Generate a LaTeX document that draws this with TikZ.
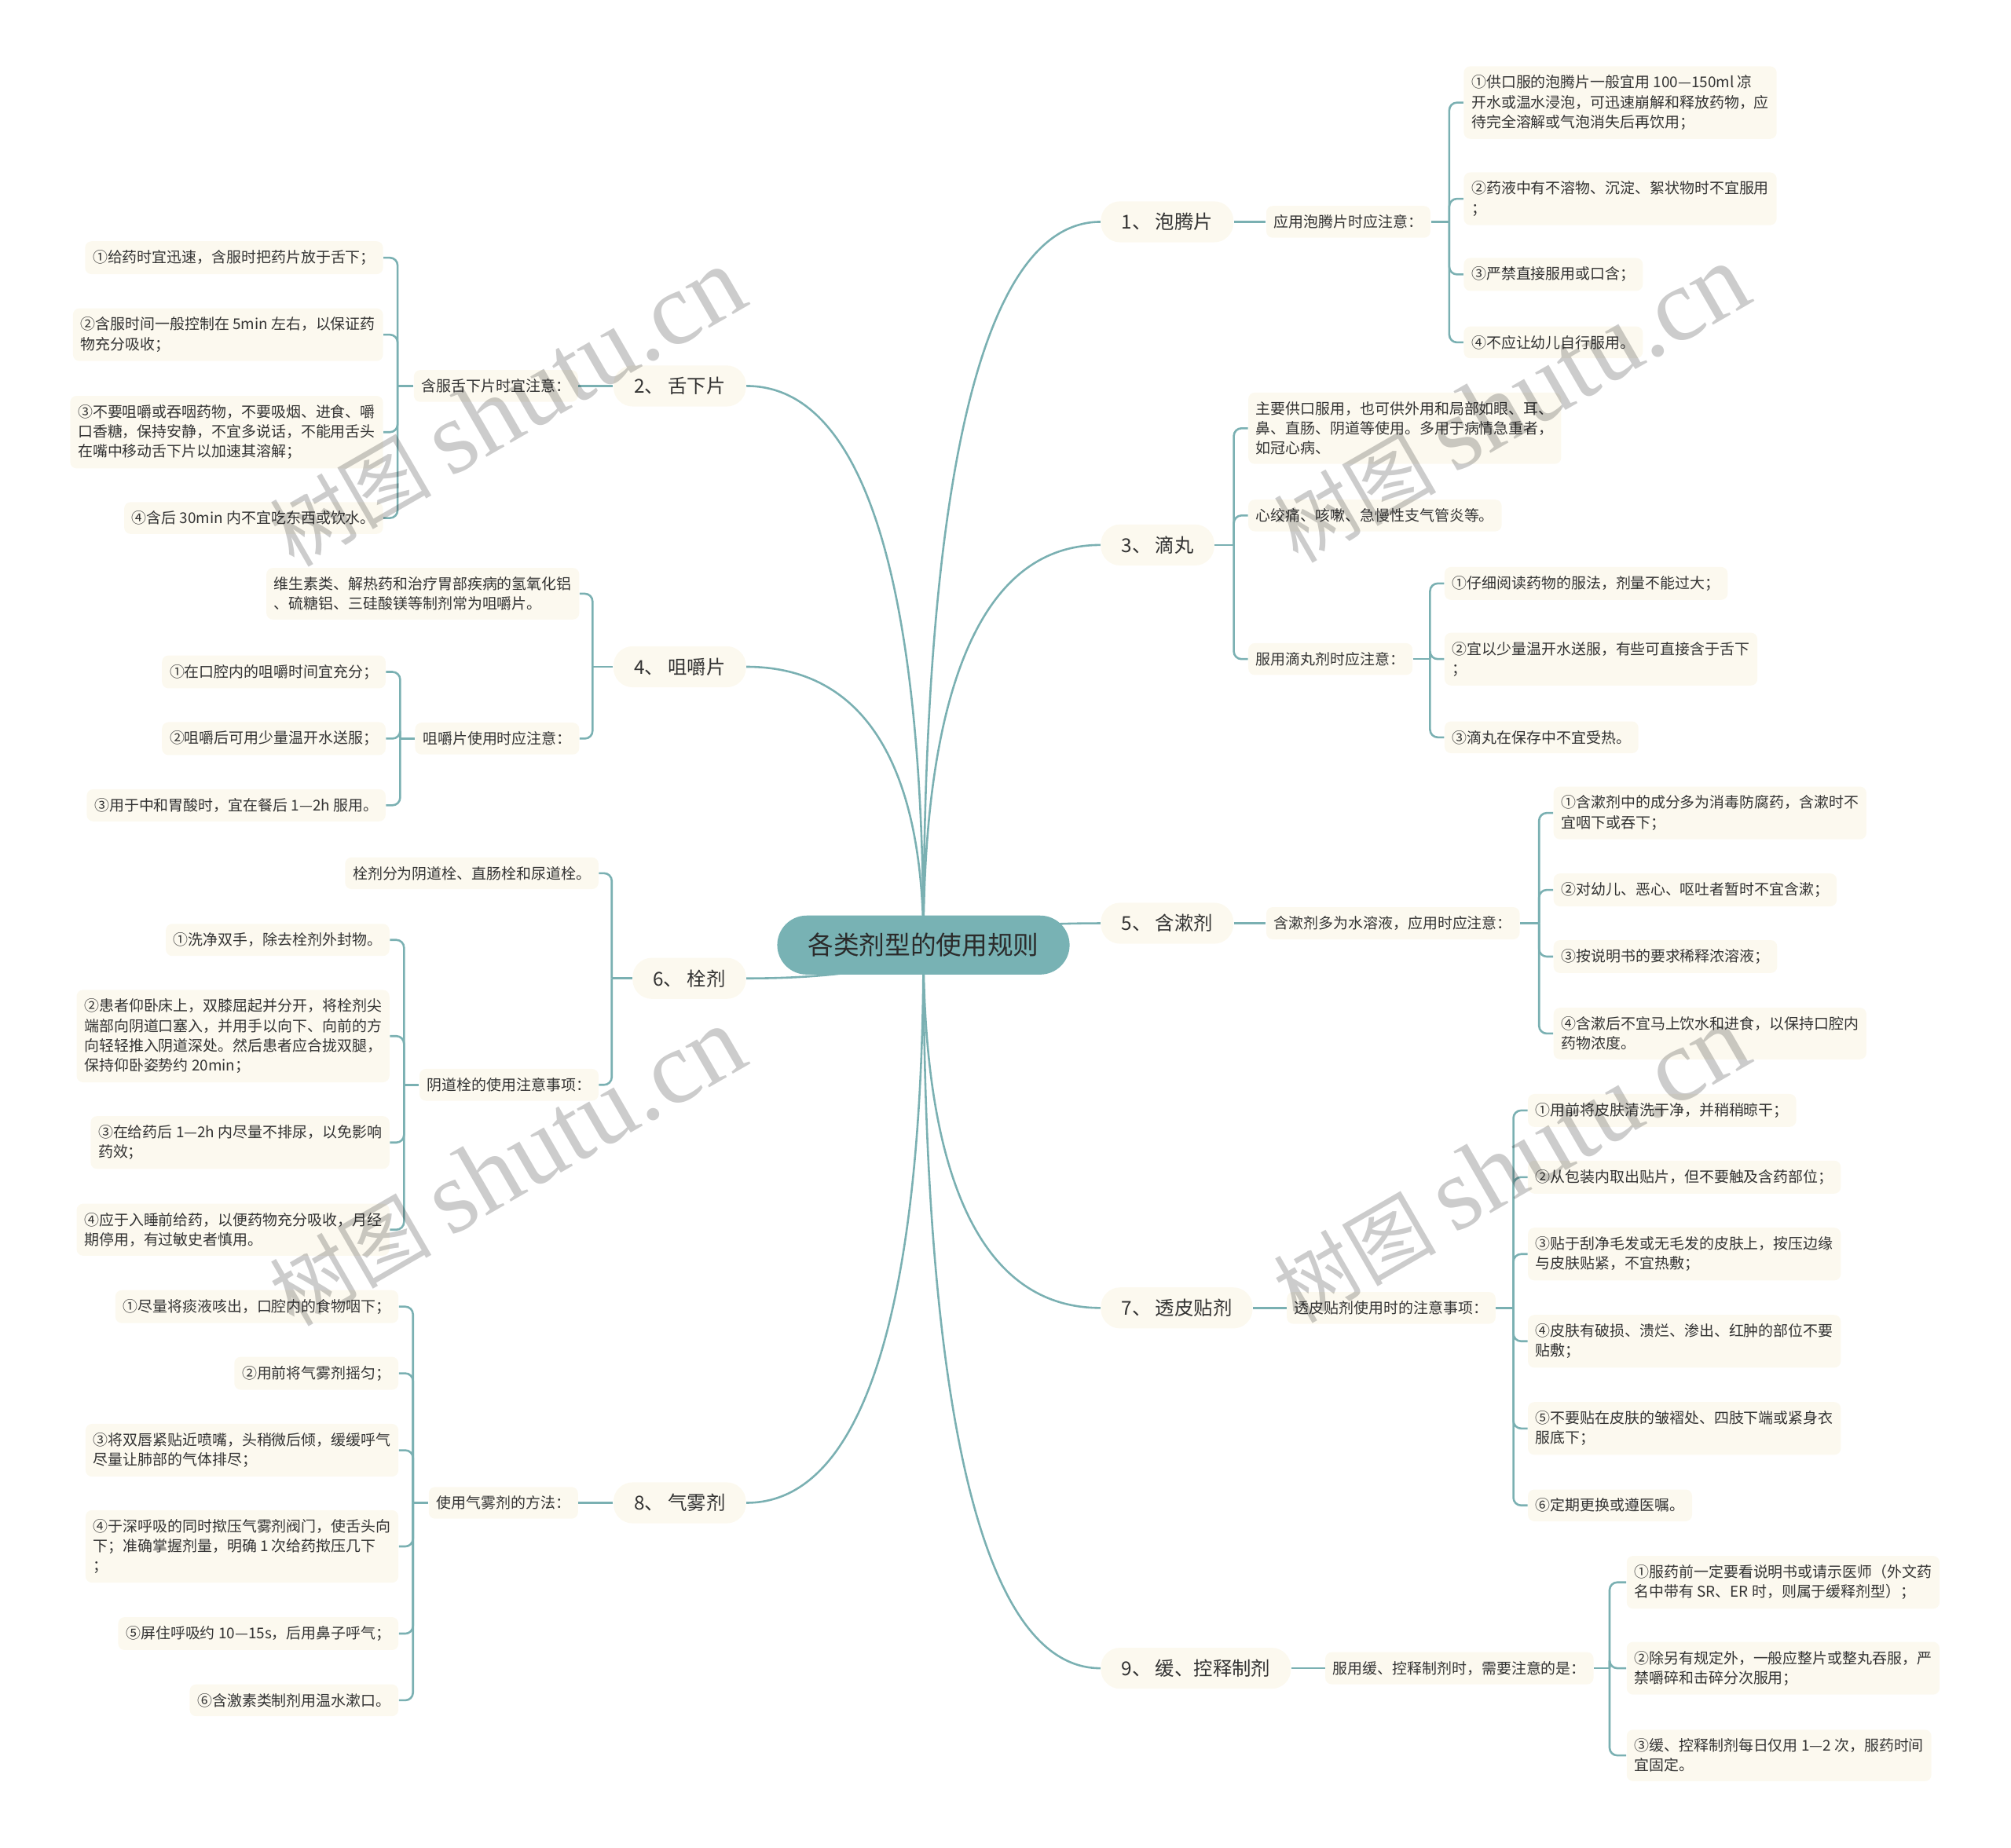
\documentclass[tikz,border=0pt]{standalone}
\usepackage{fontspec}
\setmainfont{Noto Sans CJK SC}
\newfontfamily\wmfont{Liberation Serif}
\usepackage{xcolor}
\definecolor{linkc}{HTML}{7AB0B2}
\definecolor{rootc}{HTML}{78B2B4}
\definecolor{creamc}{HTML}{FCF9EF}
\definecolor{textc}{HTML}{333333}
\tikzset{
  rootbox/.style={fill=rootc, rounded corners=0.46cm, minimum width=4.56cm, minimum height=0.92cm, font=\fontsize{11.4}{13}\selectfont, text=textc!85!black},
  branchbox/.style={fill=creamc, rounded corners=0.3cm, minimum height=0.64cm, inner xsep=0.32cm, font=\fontsize{8.5}{10}\selectfont, text=textc},
  notebox/.style={fill=creamc, rounded corners=0.1cm, inner xsep=0.12cm, inner ysep=0.14cm, align=left, font=\fontsize{6.6}{8.8}\selectfont, text=textc},
  link/.style={draw=linkc, line width=0.9pt},
  fork/.style={link, rounded corners=0.12cm},
  wmark/.style={text=black, text opacity=0.2, rotate=30, font=\fontsize{36}{36}\selectfont}
}

\begin{document}
\begin{tikzpicture}[x=0.02cm, y=-0.02cm]
\useasboundingbox (0,0) rectangle (1568,1441);
\coordinate (root) at (720,737);

\node[branchbox, anchor=west] (b1) at (858,173) {1、 泡腾片};
\node[notebox, anchor=west] (m1) at (987,173) {应用泡腾片时应注意：};
\coordinate (k1) at (1130,173);
\node[notebox, anchor=west] (l11) at (1141,80) {①供口服的泡腾片一般宜用 100—150ml 凉\\开水或温水浸泡，可迅速崩解和释放药物，应\\待完全溶解或气泡消失后再饮用；};
\node[notebox, anchor=west] (l12) at (1141,155) {②药液中有不溶物、沉淀、絮状物时不宜服用\\；};
\node[notebox, anchor=west] (l13) at (1141,214) {③严禁直接服用或口含；};
\node[notebox, anchor=west] (l14) at (1141,267) {④不应让幼儿自行服用。};

\node[branchbox, anchor=west] (b3) at (858,425) {3、 滴丸};
\coordinate (k3) at (962,425);
\node[notebox, anchor=west] (l31) at (973,334) {主要供口服用，也可供外用和局部如眼、耳、\\鼻、直肠、阴道等使用。多用于病情急重者，\\如冠心病、};
\node[notebox, anchor=west] (l32) at (973,402) {心绞痛、咳嗽、急慢性支气管炎等。};
\node[notebox, anchor=west] (m3) at (973,514) {服用滴丸剂时应注意：};
\coordinate (k3b) at (1115,514);
\node[notebox, anchor=west] (l331) at (1126,455) {①仔细阅读药物的服法，剂量不能过大；};
\node[notebox, anchor=west] (l332) at (1126,514) {②宜以少量温开水送服，有些可直接含于舌下\\；};
\node[notebox, anchor=west] (l333) at (1126,575) {③滴丸在保存中不宜受热。};

\node[branchbox, anchor=west] (b5) at (858,720) {5、 含漱剂};
\node[notebox, anchor=west] (m5) at (987,720) {含漱剂多为水溶液，应用时应注意：};
\coordinate (k5) at (1200,720);
\node[notebox, anchor=west] (l51) at (1211,634) {①含漱剂中的成分多为消毒防腐药，含漱时不\\宜咽下或吞下；};
\node[notebox, anchor=west] (l52) at (1211,694) {②对幼儿、恶心、呕吐者暂时不宜含漱；};
\node[notebox, anchor=west] (l53) at (1211,746) {③按说明书的要求稀释浓溶液；};
\node[notebox, anchor=west] (l54) at (1211,806) {④含漱后不宜马上饮水和进食，以保持口腔内\\药物浓度。};

\node[branchbox, anchor=west] (b7) at (858,1020) {7、 透皮贴剂};
\node[notebox, anchor=west] (m7) at (1003,1020) {透皮贴剂使用时的注意事项：};
\coordinate (k7) at (1180,1020);
\node[notebox, anchor=west] (l71) at (1191,866) {①用前将皮肤清洗干净，并稍稍晾干；};
\node[notebox, anchor=west] (l72) at (1191,918) {②从包装内取出贴片，但不要触及含药部位；};
\node[notebox, anchor=west] (l73) at (1191,978) {③贴于刮净毛发或无毛发的皮肤上，按压边缘\\与皮肤贴紧，不宜热敷；};
\node[notebox, anchor=west] (l74) at (1191,1046) {④皮肤有破损、溃烂、渗出、红肿的部位不要\\贴敷；};
\node[notebox, anchor=west] (l75) at (1191,1114) {⑤不要贴在皮肤的皱褶处、四肢下端或紧身衣\\服底下；};
\node[notebox, anchor=west] (l76) at (1191,1174) {⑥定期更换或遵医嘱。};

\node[branchbox, anchor=west] (b9) at (858,1301) {9、 缓、控释制剂};
\node[notebox, anchor=west] (m9) at (1033,1301) {服用缓、控释制剂时，需要注意的是：};
\coordinate (k9) at (1255,1301);
\node[notebox, anchor=west] (l91) at (1268,1234) {①服药前一定要看说明书或请示医师（外文药\\名中带有 SR、ER 时，则属于缓释剂型）；};
\node[notebox, anchor=west] (l92) at (1268,1301) {②除另有规定外，一般应整片或整丸吞服，严\\禁嚼碎和击碎分次服用；};
\node[notebox, anchor=west] (l93) at (1268,1369) {③缓、控释制剂每日仅用 1—2 次，服药时间\\宜固定。};

\node[branchbox, anchor=east] (b2) at (582,301) {2、 舌下片};
\node[notebox, anchor=east] (m2) at (451,301) {含服舌下片时宜注意：};
\coordinate (k2) at (310,301);
\node[notebox, anchor=east] (l21) at (299,201) {①给药时宜迅速，含服时把药片放于舌下；};
\node[notebox, anchor=east] (l22) at (299,261) {②含服时间一般控制在 5min 左右，以保证药\\物充分吸收；};
\node[notebox, anchor=east] (l23) at (299,337) {③不要咀嚼或吞咽药物，不要吸烟、进食、嚼\\口香糖，保持安静，不宜多说话，不能用舌头\\在嘴中移动舌下片以加速其溶解；};
\node[notebox, anchor=east] (l24) at (299,404) {④含后 30min 内不宜吃东西或饮水。};

\node[branchbox, anchor=east] (b4) at (582,520) {4、 咀嚼片};
\coordinate (k4) at (462,520);
\node[notebox, anchor=east] (l41) at (452,463) {维生素类、解热药和治疗胃部疾病的氢氧化铝\\、硫糖铝、三硅酸镁等制剂常为咀嚼片。};
\node[notebox, anchor=east] (m4) at (452,576) {咀嚼片使用时应注意：};
\coordinate (k4b) at (312,576);
\node[notebox, anchor=east] (l421) at (301,524) {①在口腔内的咀嚼时间宜充分；};
\node[notebox, anchor=east] (l422) at (301,576) {②咀嚼后可用少量温开水送服；};
\node[notebox, anchor=east] (l423) at (301,628) {③用于中和胃酸时，宜在餐后 1—2h 服用。};

\node[branchbox, anchor=east] (b6) at (582,763) {6、 栓剂};
\coordinate (k6) at (477,763);
\node[notebox, anchor=east] (l61) at (467,681) {栓剂分为阴道栓、直肠栓和尿道栓。};
\node[notebox, anchor=east] (m6) at (467,846) {阴道栓的使用注意事项：};
\coordinate (k6b) at (315,846);
\node[notebox, anchor=east] (l621) at (304,733) {①洗净双手，除去栓剂外封物。};
\node[notebox, anchor=east] (l622) at (304,808) {②患者仰卧床上，双膝屈起并分开，将栓剂尖\\端部向阴道口塞入，并用手以向下、向前的方\\向轻轻推入阴道深处。然后患者应合拢双腿，\\保持仰卧姿势约 20min；};
\node[notebox, anchor=east] (l623) at (304,891) {③在给药后 1—2h 内尽量不排尿，以免影响\\药效；};
\node[notebox, anchor=east] (l624) at (304,959) {④应于入睡前给药，以便药物充分吸收，月经\\期停用，有过敏史者慎用。};

\node[branchbox, anchor=east] (b8) at (582,1172) {8、 气雾剂};
\node[notebox, anchor=east] (m8) at (451,1172) {使用气雾剂的方法：};
\coordinate (k8) at (322,1172);
\node[notebox, anchor=east] (l81) at (311,1019) {①尽量将痰液咳出，口腔内的食物咽下；};
\node[notebox, anchor=east] (l82) at (311,1071) {②用前将气雾剂摇匀；};
\node[notebox, anchor=east] (l83) at (311,1131) {③将双唇紧贴近喷嘴，头稍微后倾，缓缓呼气\\尽量让肺部的气体排尽；};
\node[notebox, anchor=east] (l84) at (311,1206) {④于深呼吸的同时揿压气雾剂阀门，使舌头向\\下；准确掌握剂量，明确 1 次给药揿压几下\\；};
\node[notebox, anchor=east] (l85) at (311,1274) {⑤屏住呼吸约 10—15s，后用鼻子呼气；};
\node[notebox, anchor=east] (l86) at (311,1326) {⑥含激素类制剂用温水漱口。};

\draw[link] (root) .. controls (720,398) and (760,173) .. (b1.west);
\draw[link] (root) .. controls (720,550) and (760,425) .. (b3.west);
\draw[link] (root) .. controls (720,733) and (760,720) .. (b5.west);
\draw[link] (root) .. controls (720,907) and (760,1020) .. (b7.west);
\draw[link] (root) .. controls (720,1075) and (760,1301) .. (b9.west);
\draw[link] (root) .. controls (720,475) and (680,301) .. (b2.east);
\draw[link] (root) .. controls (720,607) and (680,520) .. (b4.east);
\draw[link] (root) .. controls (720,747) and (680,763) .. (b6.east);
\draw[link] (root) .. controls (720,998) and (680,1172) .. (b8.east);

\draw[link] (b1.east) -- (m1.west);
\draw[link] (m1.east) -- (k1);
\draw[fork] (k1) |- (l11.west);
\draw[fork] (k1) |- (l12.west);
\draw[fork] (k1) |- (l13.west);
\draw[fork] (k1) |- (l14.west);

\draw[link] (b3.east) -- (k3);
\draw[fork] (k3) |- (l31.west);
\draw[fork] (k3) |- (l32.west);
\draw[fork] (k3) |- (m3.west);
\draw[link] (m3.east) -- (k3b);
\draw[fork] (k3b) |- (l331.west);
\draw[fork] (k3b) |- (l332.west);
\draw[fork] (k3b) |- (l333.west);

\draw[link] (b5.east) -- (m5.west);
\draw[link] (m5.east) -- (k5);
\draw[fork] (k5) |- (l51.west);
\draw[fork] (k5) |- (l52.west);
\draw[fork] (k5) |- (l53.west);
\draw[fork] (k5) |- (l54.west);

\draw[link] (b7.east) -- (m7.west);
\draw[link] (m7.east) -- (k7);
\draw[fork] (k7) |- (l71.west);
\draw[fork] (k7) |- (l72.west);
\draw[fork] (k7) |- (l73.west);
\draw[fork] (k7) |- (l74.west);
\draw[fork] (k7) |- (l75.west);
\draw[fork] (k7) |- (l76.west);

\draw[link] (b9.east) -- (m9.west);
\draw[link] (m9.east) -- (k9);
\draw[fork] (k9) |- (l91.west);
\draw[fork] (k9) |- (l92.west);
\draw[fork] (k9) |- (l93.west);

\draw[link] (b2.west) -- (m2.east);
\draw[link] (m2.west) -- (k2);
\draw[fork] (k2) |- (l21.east);
\draw[fork] (k2) |- (l22.east);
\draw[fork] (k2) |- (l23.east);
\draw[fork] (k2) |- (l24.east);

\draw[link] (b4.west) -- (k4);
\draw[fork] (k4) |- (l41.east);
\draw[fork] (k4) |- (m4.east);
\draw[link] (m4.west) -- (k4b);
\draw[fork] (k4b) |- (l421.east);
\draw[fork] (k4b) |- (l422.east);
\draw[fork] (k4b) |- (l423.east);

\draw[link] (b6.west) -- (k6);
\draw[fork] (k6) |- (l61.east);
\draw[fork] (k6) |- (m6.east);
\draw[link] (m6.west) -- (k6b);
\draw[fork] (k6b) |- (l621.east);
\draw[fork] (k6b) |- (l622.east);
\draw[fork] (k6b) |- (l623.east);
\draw[fork] (k6b) |- (l624.east);

\draw[link] (b8.west) -- (m8.east);
\draw[link] (m8.west) -- (k8);
\draw[fork] (k8) |- (l81.east);
\draw[fork] (k8) |- (l82.east);
\draw[fork] (k8) |- (l83.east);
\draw[fork] (k8) |- (l84.east);
\draw[fork] (k8) |- (l85.east);
\draw[fork] (k8) |- (l86.east);

\node[rootbox] (title) at (root) {各类剂型的使用规则};

\node[wmark] (wm1) at (395,318) {树图 {\wmfont\fontsize{46}{46}\selectfont shutu.cn}};
\node[wmark] (wm2) at (395,910) {树图 {\wmfont\fontsize{46}{46}\selectfont shutu.cn}};
\node[wmark] (wm3) at (1178,315) {树图 {\wmfont\fontsize{46}{46}\selectfont shutu.cn}};
\node[wmark] (wm4) at (1178,908) {树图 {\wmfont\fontsize{46}{46}\selectfont shutu.cn}};
\node[wmark] (wm5) at (395,1550) {树图 {\wmfont\fontsize{46}{46}\selectfont shutu.cn}};
\node[wmark] (wm6) at (1178,1550) {树图 {\wmfont\fontsize{46}{46}\selectfont shutu.cn}};
\end{tikzpicture}
\end{document}
